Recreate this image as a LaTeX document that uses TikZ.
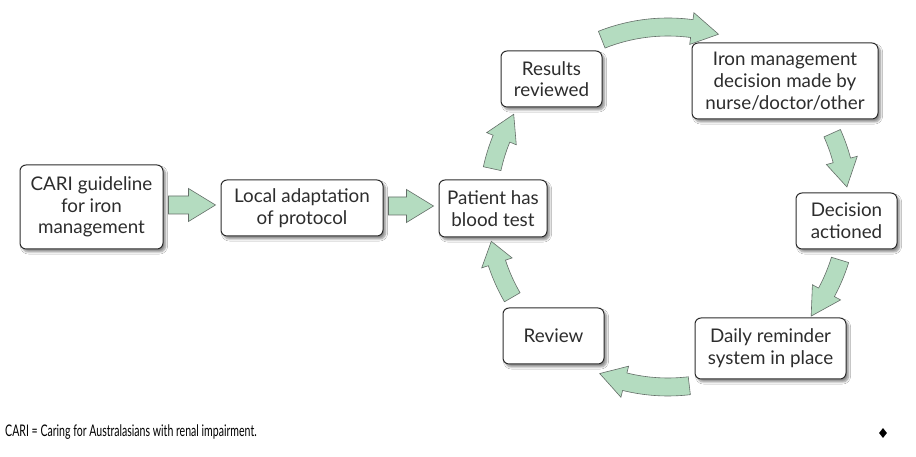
\documentclass[tikz,border=0pt]{standalone}
\usepackage{fontspec}
\setmainfont{Lato}
\usetikzlibrary{calc,shadows.blur,shapes.geometric}
\definecolor{arrowgreen}{RGB}{180,220,192}
\definecolor{arrowedge}{RGB}{100,110,104}
\definecolor{boxedge}{RGB}{45,45,45}
\definecolor{txt}{RGB}{45,45,45}
\tikzset{
  box/.style={draw=boxedge, line width=1pt, rounded corners=6pt, fill=white,
    align=center, inner sep=1pt, text=txt, font=\fontsize{18.8}{21.7}\selectfont,
    blur shadow={shadow xshift=2.5pt, shadow yshift=-3pt, shadow blur steps=6, shadow opacity=45}},
  blockarrow/.style={fill=arrowgreen, draw=arrowedge, line width=0.6pt, line join=miter}
}
\newcommand\cycarrow[3]{%
  \draw[blockarrow] ($(cyc)+(#1:189pt)$) arc[start angle=#1, end angle=#2, radius=189pt]
    -- ($(cyc)+(#2:196pt)$) -- ($(cyc)+(#3:180pt)$) -- ($(cyc)+(#2:164pt)$)
    -- ($(cyc)+(#2:171pt)$) arc[start angle=#2, end angle=#1, radius=171pt] -- cycle;}
\newcommand\straightblock[2]{%
  \draw[blockarrow] let \p1=($(#1.east)+(5pt,2pt)$), \p2=($(#2.west)+(-5pt,2pt)$) in
    (\x1,\y1-9pt) -- (\x2-27pt,\y1-9pt) -- (\x2-27pt,\y1-16.5pt) -- (\x2,\y1)
    -- (\x2-27pt,\y1+16.5pt) -- (\x2-27pt,\y1+9pt) -- (\x1,\y1+9pt) -- cycle;}
\begin{document}
\begin{tikzpicture}[x=1pt,y=1pt]
\useasboundingbox (0,0) rectangle (916,457);
\fill[white] (0,0) rectangle (916,457);
\coordinate (cyc) at (668,250);

\node[box, minimum width=143pt, minimum height=84pt] (cari) at (91.5,250) {CARI guideline\\for iron\\management};
\node[box, minimum width=162pt, minimum height=56pt] (local) at (302,249) {Local adaptation\\of protocol};
\node[box, minimum width=108pt, minimum height=57pt] (patient) at (493,248.5) {Patient has\\blood test};
\node[box, minimum width=101pt, minimum height=56pt] (results) at (551.5,378) {Results\\reviewed};
\node[box, minimum width=186pt, minimum height=76pt] (iron) at (785,376) {Iron management\\decision made by\\nurse/doctor/other};
\node[box, minimum width=101pt, minimum height=56pt] (decision) at (846.5,236) {Decision\\actioned};
\node[box, minimum width=151pt, minimum height=61pt] (daily) at (770.5,108.5) {Daily reminder\\system in place};
\node[box, minimum width=101pt, minimum height=56pt] (review) at (553.5,121) {Review};

\straightblock{cari}{local}
\straightblock{local}{patient}

\cycarrow{167.7}{157.7}{149}
\cycarrow{111.6}{82.4}{73.7}
\cycarrow{24.2}{15}{6.4}
\cycarrow{-17.1}{-28.3}{-37.3}
\cycarrow{-83.2}{-103.9}{-112.3}
\cycarrow{210.1}{198.1}{191}

\node[anchor=west, inner sep=0pt, text=black] (note) at (5,25)
  {\scalebox{0.66}[1]{\fontsize{16}{18}\selectfont CARI = Caring for Australasians with renal impairment.}};
\node[diamond, fill=black, inner sep=0pt, minimum width=8pt, minimum height=10pt] (endmark) at (883,24) {};
\end{tikzpicture}
\end{document}
